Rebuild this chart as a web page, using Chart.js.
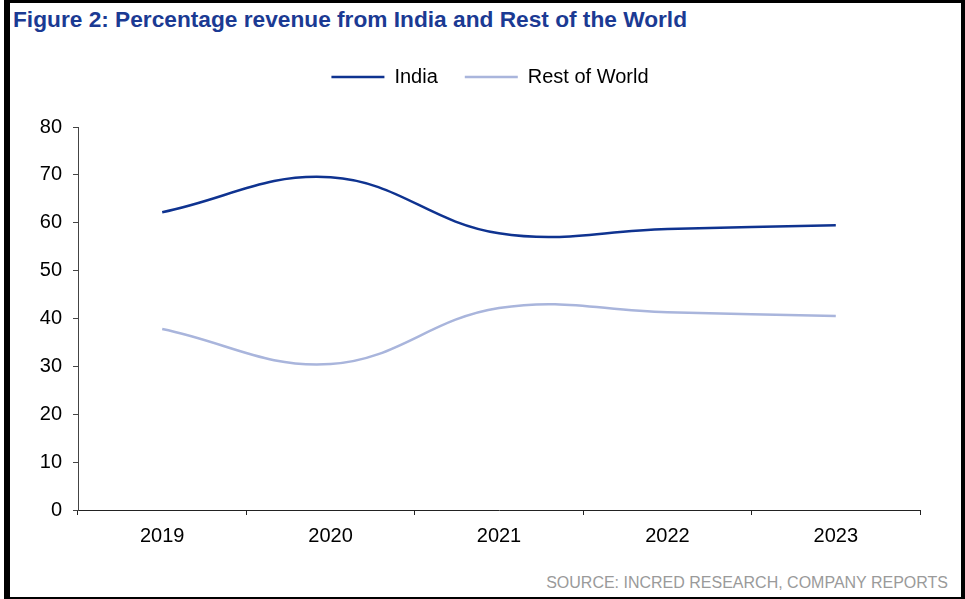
<!DOCTYPE html>
<html>
<head>
<meta charset="utf-8">
<script src="https://cdn.jsdelivr.net/npm/chart.js@4.4.1/dist/chart.umd.min.js"></script>
<style>
  html, body { margin: 0; padding: 0; background: #fff; }
  body { width: 965px; height: 599px; position: relative; overflow: hidden; font-family: "Liberation Sans", Arial, sans-serif; }
  #frame { position: absolute; left: 4px; top: 0; border-top: 3px solid #000; border-left: 6px solid #000; border-right: 4px solid #000; border-bottom: 2px solid #000; box-sizing: border-box; width: 961px; height: 599px; }
  #title { position: absolute; left: 13px; top: 6px; font-size: 22.7px; font-weight: bold; color: #1b3a93; white-space: nowrap; }
  #source { position: absolute; right: 17px; top: 574px; font-size: 16px; color: #9a9a9a; white-space: nowrap; }
  #wrap { position: absolute; left: 10px; top: 40px; width: 946px; height: 525px; }
</style>
</head>
<body>
<div id="frame"></div>
<div id="title">Figure 2: Percentage revenue from India and Rest of the World</div>
<div id="wrap"><canvas id="myChart"></canvas></div>
<div id="source">SOURCE: INCRED RESEARCH, COMPANY REPORTS</div>
<script>
const years = ['2019', '2020', '2021', '2022', '2023'];
const india = [62.2, 69.5, 57.8, 58.7, 59.5];
const restOfWorld = [37.8, 30.5, 42.2, 41.3, 40.5];
const yTicks = [0, 10, 20, 30, 40, 50, 60, 70, 80];

// extra room between legend and plot area, legend nudged right
const legendGap = {
    id: 'legendGap',
    beforeUpdate(chart) {
        const legend = chart.legend;
        if (legend && !legend._gapped) {
            const fit = legend.fit;
            legend.fit = function () { fit.call(this); this.height += 30; };
            legend._gapped = true;
        }
    },
    afterLayout(chart) {
        if (chart.legend) chart.legend.left += 50;
    }
};

document.addEventListener('DOMContentLoaded', () => {
    const ctx = document.getElementById('myChart').getContext('2d');
    Chart.defaults.font.family = '"Liberation Sans", Arial, sans-serif';
    Chart.defaults.color = '#000';

    window.chart = new Chart(ctx, {
        type: 'line',
        data: {
            labels: years,
            datasets: [
                {
                    label: 'India',
                    data: india,
                    borderColor: '#0f3390',
                    backgroundColor: '#0f3390',
                    borderWidth: 2.5,
                    tension: 0.4,
                    pointRadius: 0,
                    fill: false
                },
                {
                    label: 'Rest of World',
                    data: restOfWorld,
                    borderColor: '#a9b5dc',
                    backgroundColor: '#a9b5dc',
                    borderWidth: 2.5,
                    tension: 0.4,
                    pointRadius: 0,
                    fill: false
                }
            ]
        },
        options: {
            responsive: true,
            maintainAspectRatio: false,
            animation: false,
            layout: { padding: { left: 0, right: 36, top: 0, bottom: 0 } },
            plugins: {
                tooltip: { enabled: false },
                legend: {
                    position: 'top',
                    labels: {
                        usePointStyle: true,
                        pointStyle: 'line',
                        pointStyleWidth: 53,
                        boxHeight: 20,
                        padding: 27,
                        font: { size: 20 },
                        color: '#000'
                    }
                }
            },
            scales: {
                x: {
                    offset: true,
                    grid: { display: true, offset: true, drawOnChartArea: false, drawTicks: true, tickLength: 5, color: '#222' },
                    border: { color: '#222', width: 1 },
                    ticks: { font: { size: 20 }, color: '#000', padding: 9, maxRotation: 0 },
                    afterFit: (scale) => { scale.height = 55; }
                },
                y: {
                    min: 0,
                    max: 80,
                    afterBuildTicks: (scale) => { scale.ticks = yTicks.map(v => ({ value: v })); },
                    grid: { display: true, drawOnChartArea: false, drawTicks: true, tickLength: 5, color: '#444' },
                    border: { color: '#444', width: 1 },
                    ticks: { font: { size: 20 }, color: '#000', padding: 11 },
                    afterFit: (scale) => { scale.width = 68; }
                }
            }
        },
        plugins: [legendGap]
    });
});
</script>
</body>
</html>
